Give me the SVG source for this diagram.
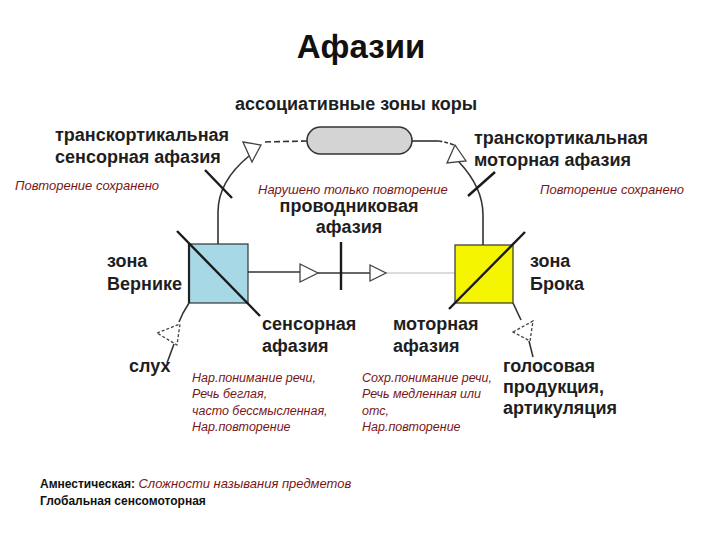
<svg xmlns="http://www.w3.org/2000/svg" width="720" height="540" viewBox="0 0 720 540">
<style>
.lbl{font-family:"Liberation Sans",Arial,sans-serif;font-weight:bold;font-size:18px;fill:#1e1e1e}
.note{font-family:"Liberation Sans",Arial,sans-serif;font-style:italic;font-size:12.5px;fill:#7b1515}
.note13{font-family:"Liberation Sans",Arial,sans-serif;font-style:italic;font-size:13px;fill:#7b1515}
.foot{font-family:"Liberation Sans",Arial,sans-serif;font-weight:bold;font-size:12px;fill:#111}
.ln{fill:none;stroke:#333;stroke-width:1.6}
.thick{fill:none;stroke:#1a1a1a;stroke-width:2.4}
.tri{fill:#fff;stroke:#444;stroke-width:1.3}
.dtri{fill:#fff;stroke:#444;stroke-width:1.3;stroke-dasharray:3 2}
</style>
<rect width="720" height="540" fill="#fff"/>
<text x="361" y="58" text-anchor="middle" font-family="'Liberation Sans',Arial,sans-serif" font-weight="bold" font-size="33" fill="#111">Афазии</text>

<g id="connectors">
  <path class="ln" d="M307,141 L262,142" stroke-dasharray="6 3"/>
  <path class="ln" d="M249,156 C232,170 218,188 218,212 L218,245"/>
  <path class="ln" d="M412,141 L438,141"/>
  <path class="ln" d="M438,141 C446,142 452,144 456,146" stroke-dasharray="4 2"/>
  <path class="ln" d="M459,162 C474,178 483,195 483,215 L483,245"/>
  <path class="ln" d="M248,272 L300,272"/>
  <path class="ln" d="M318,273 L370,273"/>
  <path d="M386,273 L455,273" fill="none" stroke="#cfcfcf" stroke-width="1.6"/>
  <path class="ln" d="M189,303 L183,313 L179,322"/>
  <path class="ln" d="M174,344 L167,363"/>
  <path class="ln" d="M513,303 L521,320"/>
  <path class="ln" d="M529,341 L533,357"/>
  <polygon class="tri" points="243,142 261,145 252,162"/>
  <polygon class="tri" points="455,145 447,163 466,161"/>
  <polygon class="tri" points="300,264 300,282 318,273"/>
  <polygon class="tri" points="370,265 370,281 386,273"/>
  <polygon class="dtri" points="157,333 180,324 177,345"/>
  <polygon class="dtri" points="513,332 533,321 530,341"/>
  <path class="thick" d="M205,170 L232,198"/>
  <path class="thick" d="M468,196 L495,172"/>
  <path class="thick" d="M341,242 L341,290"/>
</g>

<g id="assoc">
  <rect x="307" y="127" width="105" height="27" rx="13.5" fill="#d4d4d4" stroke="#333" stroke-width="1.6"/>
  <text class="lbl" x="356" y="110" text-anchor="middle">ассоциативные зоны коры</text>
</g>

<g id="wernicke">
  <rect x="189" y="244" width="59" height="59" fill="#a6d8e6" stroke="#333" stroke-width="1.2"/>
  <path d="M189,244 L189,303" stroke="#222" stroke-width="2.2"/>
  <path class="thick" d="M177,231 L260,316"/>
  <text class="lbl" x="107" y="267">зона</text>
  <text class="lbl" x="107" y="290">Вернике</text>
</g>

<g id="broca">
  <rect x="455" y="245" width="58" height="58" fill="#f5f500" stroke="#333" stroke-width="1.2"/>
  <path class="thick" d="M449,309 L525,232"/>
  <text class="lbl" x="530" y="267">зона</text>
  <text class="lbl" x="530" y="290">Брока</text>
</g>

<g id="tc-sensory">
  <text class="lbl" x="55" y="141">транскортикальная</text>
  <text class="lbl" x="55" y="163">сенсорная афазия</text>
  <text class="note13" x="15" y="190">Повторение сохранено</text>
</g>

<g id="tc-motor">
  <text class="lbl" x="474" y="144">транскортикальная</text>
  <text class="lbl" x="474" y="166">моторная афазия</text>
  <text class="note13" x="540" y="194">Повторение сохранено</text>
</g>

<g id="conduction">
  <text class="note13" x="258" y="194">Нарушено только повторение</text>
  <text class="lbl" x="349" y="212" text-anchor="middle">проводниковая</text>
  <text class="lbl" x="349" y="233" text-anchor="middle">афазия</text>
</g>

<g id="sensory">
  <text class="lbl" x="262" y="330">сенсорная</text>
  <text class="lbl" x="262" y="352">афазия</text>
  <text class="note" x="192" y="382">Нар.понимание речи,</text>
  <text class="note" x="192" y="398">Речь беглая,</text>
  <text class="note" x="192" y="415">часто бессмысленная,</text>
  <text class="note" x="192" y="431">Нар.повторение</text>
</g>

<g id="motor">
  <text class="lbl" x="393" y="330">моторная</text>
  <text class="lbl" x="393" y="352">афазия</text>
  <text class="note" x="362" y="382">Сохр.понимание речи,</text>
  <text class="note" x="362" y="398">Речь медленная или</text>
  <text class="note" x="362" y="415">отс,</text>
  <text class="note" x="362" y="431">Нар.повторение</text>
</g>

<g id="hearing">
  <text class="lbl" x="129" y="372">слух</text>
</g>

<g id="voice">
  <text class="lbl" x="503" y="372">голосовая</text>
  <text class="lbl" x="503" y="393">продукция,</text>
  <text class="lbl" x="503" y="414">артикуляция</text>
</g>

<g id="footer">
  <text class="foot" x="40" y="488">Амнестическая: <tspan font-family="'Liberation Sans',Arial,sans-serif" font-style="italic" font-weight="normal" font-size="13" fill="#7b1515">Сложности называния предметов</tspan></text>
  <text class="foot" x="40" y="505">Глобальная сенсомоторная</text>
</g>
</svg>
